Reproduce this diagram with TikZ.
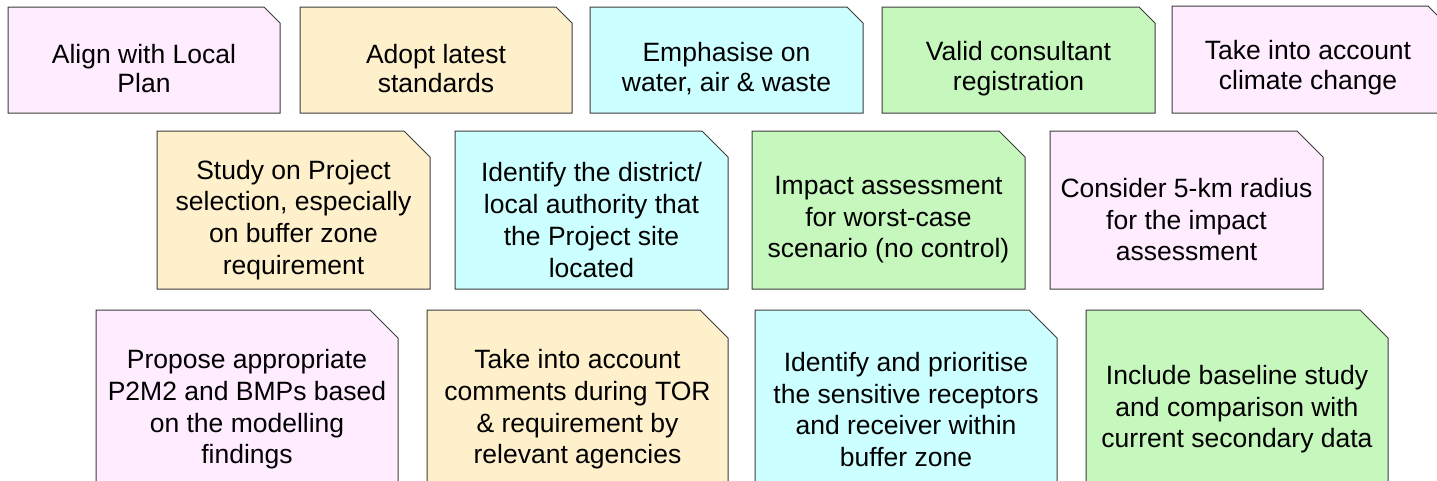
\documentclass[tikz,border=0pt]{standalone}
\usepackage{fontspec}
\setmainfont{Liberation Sans}
\definecolor{cpink}{RGB}{255,236,255}
\definecolor{ctan}{RGB}{255,240,204}
\definecolor{ccyan}{RGB}{204,255,255}
\definecolor{cgreen}{RGB}{198,248,190}
\definecolor{cedge}{RGB}{60,60,60}
\tikzset{
  boxline/.style={draw=cedge, line width=1pt, line join=miter},
  boxtext/.style={align=center, inner sep=0pt},
  rowone/.style={yshift=-8.5pt, font=\fontsize{26.5}{29.8}\selectfont},
  rowtwofour/.style={yshift=-10pt, font=\fontsize{26.5}{31.8}\selectfont},
  rowtwothree/.style={yshift=-10pt, font=\fontsize{26.5}{31.5}\selectfont},
  rowthree/.style={yshift=-2.5pt, font=\fontsize{26.5}{31.6}\selectfont}
}
% [text style] name, x1, y1, x2, y2, cut, fill, text
\newcommand\notebox[9][]{%
  \draw[boxline, fill=#8] (#3,#4) -- ({#5-#7},#4) -- (#5,{#4+#7}) -- (#5,#6) -- (#3,#6) -- cycle;
  \node[boxtext, #1] (#2) at ({(#3+#5)/2},{(#4+#6)/2}) {#9};
}
\begin{document}
\begin{tikzpicture}[x=1pt,y=-1pt]
\useasboundingbox (0,0) rectangle (1437,480);
\clip (0,0) rectangle (1437,480);
% row 1
\notebox[rowone]{b1}{8}{7}{280}{113}{16}{cpink}{Align with Local\\Plan}
\notebox[rowone]{b2}{300}{7}{572}{113}{16}{ctan}{Adopt latest\\standards}
\notebox[rowone]{b3}{590}{7}{863}{113}{16}{ccyan}{Emphasise on\\water, air \& waste}
\notebox[rowone]{b4}{882}{7}{1155}{113}{16}{cgreen}{Valid consultant\\registration}
\notebox[rowone]{b5}{1172}{6}{1444}{113}{16}{cpink}{Take into account\\climate change}
% row 2
\notebox[rowtwofour]{b6}{157}{131}{430}{289}{26}{ctan}{Study on Project\\selection, especially\\on buffer zone\\requirement}
\notebox[rowtwofour]{b7}{455}{131}{728}{289}{26}{ccyan}{Identify the district/\\local authority that\\the Project site\\located}
\notebox[rowtwothree]{b8}{752}{131}{1025}{289}{26}{cgreen}{Impact assessment\\for worst-case\\scenario (no control)}
\notebox[rowtwothree]{b9}{1050}{131}{1323}{289}{26}{cpink}{Consider 5-km radius\\for the impact\\assessment}
% row 3
\notebox[rowthree]{b10}{96}{310}{398}{504}{28}{cpink}{Propose appropriate\\P2M2 and BMPs based\\on the modelling\\findings}
\notebox[rowthree]{b11}{427}{310}{728}{504}{28}{ctan}{Take into account\\comments during TOR\\\& requirement by\\relevant agencies}
\notebox[rowthree]{b12}{755}{310}{1057}{504}{28}{ccyan}{Identify and prioritise\\the sensitive receptors\\and receiver within\\buffer zone}
\notebox[rowthree]{b13}{1086}{310}{1388}{504}{28}{cgreen}{Include baseline study\\and comparison with\\current secondary data}
\end{tikzpicture}
\end{document}
